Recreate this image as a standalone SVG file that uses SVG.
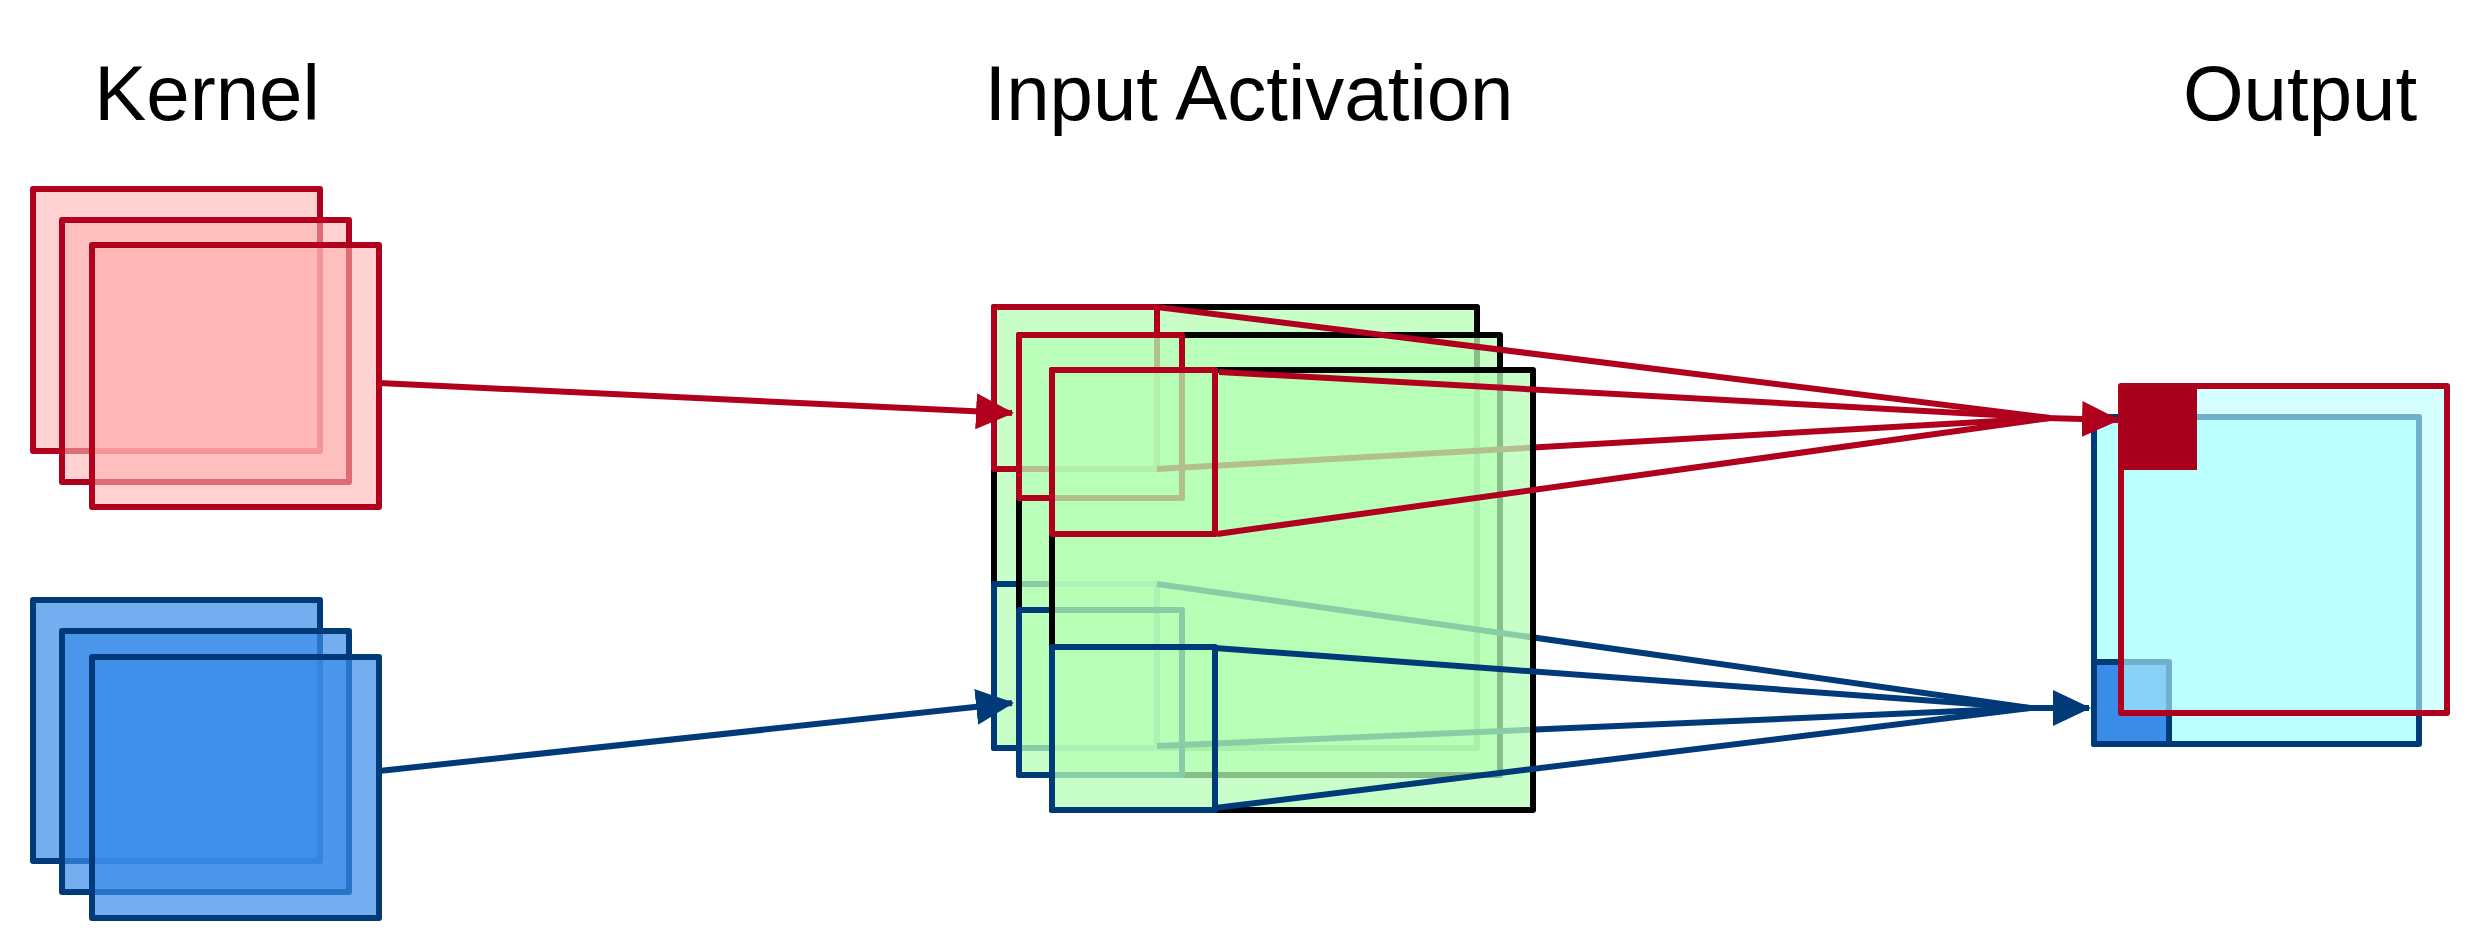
<svg xmlns="http://www.w3.org/2000/svg" width="2479" height="952" viewBox="0 0 2479 952">
<defs>
<style>
.t{font-family:"Liberation Sans",Arial,sans-serif;font-size:78px;fill:#000;text-anchor:middle}
.r{stroke:#b0001e;stroke-width:6;stroke-linejoin:round}
.b{stroke:#003a78;stroke-width:6;stroke-linejoin:round}
.k{stroke:#000;stroke-width:6;stroke-linejoin:round}
.kr{fill:#ffb3b3;fill-opacity:0.6}
.kb{fill:#3b8ce9;fill-opacity:0.7}
.g{fill:#b5ffb5;fill-opacity:0.75}
.n{fill:none}
.lr{stroke:#b0001e;stroke-width:6;fill:none}
.lb{stroke:#003a78;stroke-width:6;fill:none}
</style>
<marker id="ar" markerUnits="userSpaceOnUse" markerWidth="38" markerHeight="36" refX="36" refY="18" orient="auto"><path d="M0,0 L38,18 L0,36 Z" fill="#b0001e"/></marker>
<marker id="ab" markerUnits="userSpaceOnUse" markerWidth="38" markerHeight="36" refX="36" refY="18" orient="auto"><path d="M0,0 L38,18 L0,36 Z" fill="#003a78"/></marker>
</defs>
<rect width="2479" height="952" fill="#fff"/>
<text class="t" x="207" y="120">Kernel</text>
<text class="t" x="1249" y="120">Input Activation</text>
<text class="t" x="2300" y="120">Output</text>
<g id="kernel-red">
<rect class="kr r" x="33" y="189" width="287" height="262"/>
<rect class="kr r" x="62" y="220" width="287" height="262"/>
<rect class="kr r" x="92" y="245" width="287" height="262"/>
</g>
<g id="kernel-blue">
<rect class="kb b" x="33" y="600" width="287" height="261"/>
<rect class="kb b" x="62" y="631" width="287" height="261"/>
<rect class="kb b" x="92" y="657" width="287" height="261"/>
</g>
<g id="input-activation">
<rect class="g k" x="994" y="307" width="483" height="441"/>
<rect class="n r" x="994" y="307" width="163" height="162"/>
<rect class="n b" x="994" y="584" width="163" height="164"/>
<rect class="g k" x="1019" y="335" width="481" height="440"/>
<rect class="n r" x="1019" y="335" width="163" height="163"/>
<rect class="n b" x="1019" y="610" width="163" height="165"/>
<g id="connectors-back">
<line class="lr" x1="1157" y1="307" x2="2050" y2="418"/>
<line class="lr" x1="1157" y1="469" x2="2050" y2="418"/>
<line class="lb" x1="1157" y1="584" x2="2030" y2="708"/>
<line class="lb" x1="1157" y1="746" x2="2030" y2="708"/>
</g>
<rect class="g k" x="1052" y="370" width="481" height="440"/>
<rect class="n r" x="1052" y="370" width="163" height="164"/>
<rect class="n b" x="1052" y="647" width="163" height="163"/>
</g>
<g id="output">
<rect fill="#bbffff" class="b" x="2094" y="417" width="325" height="327"/>
<rect fill="#3b8ce9" class="b" x="2094" y="662" width="75" height="82"/>
<rect fill="#bbffff" fill-opacity="0.6" class="r" x="2121" y="386" width="326" height="327"/>
<rect fill="#a8001c" x="2121" y="386" width="76" height="84"/>
</g>
<g id="connectors">
<line class="lr" x1="379" y1="383" x2="1012" y2="413" marker-end="url(#ar)"/>
<line class="lb" x1="379" y1="771" x2="1012" y2="703" marker-end="url(#ab)"/>
<line class="lr" x1="1219" y1="372" x2="2050" y2="418"/>
<line class="lr" x1="1217" y1="534" x2="2050" y2="418"/>
<line class="lr" x1="2046" y1="418" x2="2118" y2="420" marker-end="url(#ar)"/>
<line class="lb" x1="1215" y1="648" x2="2030" y2="708"/>
<line class="lb" x1="1215" y1="808" x2="2030" y2="708"/>
<line class="lb" x1="2026" y1="708" x2="2089" y2="708" marker-end="url(#ab)"/>
</g>
</svg>
